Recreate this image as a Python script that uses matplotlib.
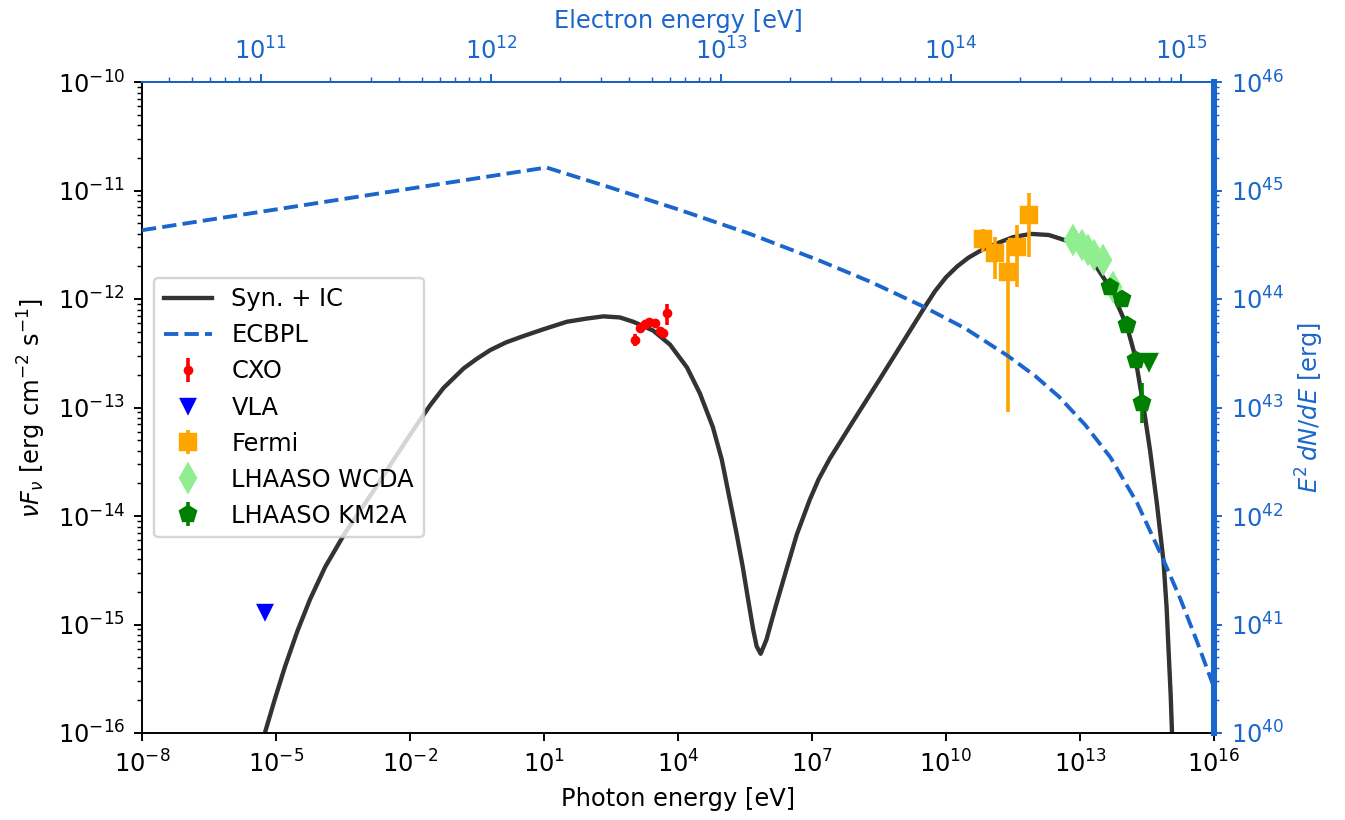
import numpy as np
import matplotlib
matplotlib.use("Agg")
import matplotlib.pyplot as plt
from matplotlib.ticker import FixedLocator, NullLocator

blue = "#1a66cc"

# Syn. + IC model (log10 photon energy [eV], log10 nuFnu)
model_logE = [-5.35, -5.25, -5.02, -4.80, -4.52, -4.24, -3.90, -3.46, -2.82, -2.30,
              -1.85, -1.70, -1.55, -1.40, -1.25, -1.05, -0.80, -0.50, -0.20, 0.15,
              0.55, 0.98, 1.51, 1.96, 2.33, 2.70, 3.00, 3.44, 3.82, 4.20, 4.49,
              4.78, 4.98, 5.16, 5.31, 5.45, 5.57, 5.68, 5.76, 5.85, 5.98, 6.10,
              6.21, 6.43, 6.66, 6.95, 7.15, 7.40, 7.90, 8.50, 9.00, 9.50, 9.75,
              10.00, 10.25, 10.50, 10.75, 11.00, 11.50, 11.90, 12.30, 12.68, 13.00,
              13.30, 13.63, 13.85, 14.05, 14.23, 14.41, 14.57, 14.72, 14.87, 14.94,
              14.99, 15.03, 15.06, 15.08]
model_logF = [-16.15, -16.00, -15.68, -15.39, -15.06, -14.77, -14.47, -14.16, -13.77, -13.44,
              -13.16, -13.07, -12.98, -12.90, -12.82, -12.74, -12.64, -12.55, -12.47, -12.40,
              -12.34, -12.28, -12.21, -12.18, -12.16, -12.17, -12.21, -12.29, -12.42, -12.63, -12.87,
              -13.18, -13.48, -13.85, -14.16, -14.47, -14.77, -15.04, -15.20, -15.27, -15.14, -14.96,
              -14.80, -14.49, -14.17, -13.85, -13.66, -13.47, -13.14, -12.75, -12.42, -12.09, -11.93,
              -11.80, -11.70, -11.62, -11.56, -11.51, -11.43, -11.40, -11.41, -11.46, -11.54,
              -11.66, -11.87, -12.06, -12.25, -12.52, -12.96, -13.40, -13.88, -14.42, -14.85,
              -15.30, -15.65, -16.00, -16.30]

# ECBPL electron spectrum (log10 electron energy [eV], log10 E^2 dN/dE [erg])
ecbpl_logE = [10.483, 12.241, 12.50, 12.822, 13.126, 13.421, 13.648, 13.870, 14.061,
              14.244, 14.366, 14.469, 14.583, 14.693, 14.809, 14.918, 14.996, 15.068, 15.143]
ecbpl_logW = [44.634, 45.212, 45.04, 44.82, 44.60, 44.36, 44.16, 43.94, 43.73,
              43.48, 43.29, 43.10, 42.84, 42.54, 42.12, 41.62, 41.24, 40.85, 40.42]

# data points
cxo_E = [1.1e3, 1.4e3, 1.8e3, 2.3e3, 3.0e3, 4.0e3, 4.6e3, 5.6e3]
cxo_F = [4.2e-13, 5.4e-13, 5.9e-13, 6.2e-13, 6.0e-13, 5.1e-13, 4.9e-13, 7.4e-13]
cxo_err = [0.55e-13, 0.3e-13, 0.3e-13, 0.3e-13, 0.3e-13, 0.35e-13, 0.4e-13, 1.6e-13]

vla_E = [5.6e-6]
vla_F = [1.3e-15]

fermi_E = [6.6e10, 1.25e11, 2.5e11, 3.9e11, 7.3e11]
fermi_F = [3.55e-12, 2.64e-12, 1.79e-12, 3.03e-12, 5.94e-12]
fermi_err = [0.85e-12, 1.1e-12, 1.7e-12, 1.75e-12, 3.5e-12]

wcda_E = [7.1e12, 1.1e13, 1.5e13, 2.1e13, 3.2e13, 5.5e13]
wcda_F = [3.50e-12, 3.15e-12, 2.83e-12, 2.55e-12, 2.29e-12, 1.29e-12]
wcda_err = [0.1e-12, 0.09e-12, 0.08e-12, 0.08e-12, 0.08e-12, 0.06e-12]

km2a_E = [4.7e13, 8.5e13, 1.1e14, 1.8e14, 2.45e14]
km2a_F = [1.30e-12, 1.01e-12, 5.75e-13, 2.74e-13, 1.09e-13]
km2a_lo = [0.06e-12, 0.05e-12, 0.4e-13, 0.3e-13, 0.37e-13]
km2a_hi = [0.06e-12, 0.05e-12, 0.4e-13, 0.3e-13, 0.59e-13]
km2a_ul_E = [3.55e14]
km2a_ul_F = [2.64e-13]

dpi = 174
fig = plt.figure(figsize=(1345 / dpi, 820 / dpi), dpi=dpi)
ax = fig.add_axes([142 / 1345, 1 - 733 / 820, 1072 / 1345, 651 / 820])

l_model, = ax.plot(10 ** np.array(model_logE), 10 ** np.array(model_logF),
                   color="k", alpha=0.8, lw=1.8, label="Syn. + IC")
h_cxo = ax.errorbar(cxo_E, cxo_F, yerr=cxo_err, fmt="o", color="red", ms=3, label="CXO")
h_vla, = ax.plot(vla_E, vla_F, "v", color="blue", ms=6, ls="none", label="VLA")
h_fermi = ax.errorbar(fermi_E, fermi_F, yerr=fermi_err, fmt="s", color="orange", ms=7,
                      label="Fermi")
h_wcda = ax.errorbar(wcda_E, wcda_F, yerr=wcda_err, fmt="d", color="lightgreen", ms=8,
                     label="LHAASO WCDA")
h_km2a = ax.errorbar(km2a_E, km2a_F, yerr=[km2a_lo, km2a_hi], fmt="p", color="green", ms=7,
                     label="LHAASO KM2A")
ax.plot(km2a_ul_E, km2a_ul_F, "v", color="green", ms=7, ls="none")

ax.set_xscale("log")
ax.set_yscale("log")
ax.set_xlim(1e-8, 1e16)
ax.set_ylim(1e-16, 1e-10)
ax.xaxis.set_major_locator(FixedLocator(10.0 ** np.arange(-8, 17, 3)))
ax.xaxis.set_minor_locator(NullLocator())
ax.set_xlabel("Photon energy [eV]")
ax.set_ylabel(r"$\nu F_\nu$ [erg cm$^{-2}$ s$^{-1}$]")

# electron spectrum on top / right axes
axe = fig.add_axes(ax.get_position(), facecolor="none")
l_ecbpl, = axe.plot(10 ** np.array(ecbpl_logE), 10 ** np.array(ecbpl_logW),
                    "--", color=blue, lw=1.6, label="ECBPL")
axe.set_xscale("log")
axe.set_yscale("log")
axe.set_xlim(10 ** 10.483, 10 ** 15.143)
axe.set_ylim(1e40, 1e46)
axe.xaxis.tick_top()
axe.xaxis.set_label_position("top")
axe.yaxis.tick_right()
axe.yaxis.set_label_position("right")
axe.spines["left"].set_visible(False)
axe.spines["bottom"].set_visible(False)
axe.spines["top"].set_color(blue)
axe.spines["right"].set_color(blue)
axe.spines["right"].set_linewidth(2.5)
axe.tick_params(which="both", colors=blue)
axe.set_xlabel("Electron energy [eV]", color=blue)
axe.set_ylabel(r"$E^2\,dN/dE$ [erg]", color=blue)

ax.legend([l_model, l_ecbpl, h_cxo, h_vla, h_fermi, h_wcda, h_km2a],
          ["Syn. + IC", "ECBPL", "CXO", "VLA", "Fermi", "LHAASO WCDA", "LHAASO KM2A"],
          loc="center left")

fig.savefig("out.png", dpi=dpi)
